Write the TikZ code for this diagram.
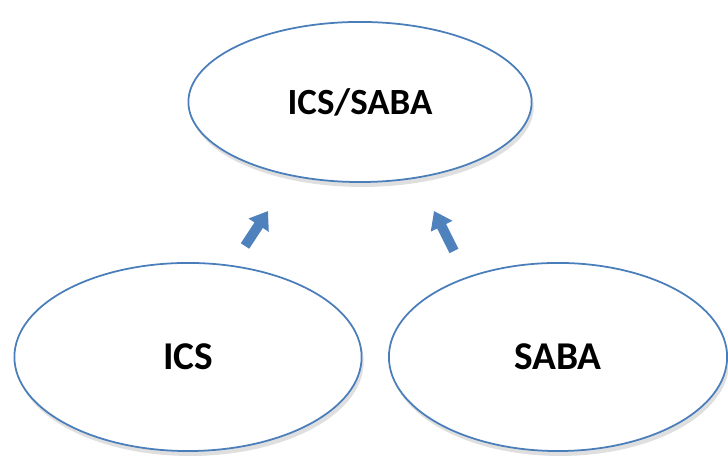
\documentclass[tikz,border=0pt]{standalone}
\usepackage{fontspec}
\setmainfont{Carlito}
\usepackage{tikz}
\usetikzlibrary{shapes.geometric}
\usetikzlibrary{arrows.meta}
\usetikzlibrary{shadows}
\definecolor{ovalline}{HTML}{4A7EBB}
\definecolor{arrowfill}{HTML}{4F81BD}

\begin{document}
\begin{tikzpicture}[x=0.01cm,y=-0.01cm,
  oval/.style={ellipse,draw=ovalline,line width=0.5pt,fill=white,inner sep=0pt,text depth=0pt,
    drop shadow={shadow xshift=0.6pt,shadow yshift=-1.4pt,opacity=0.25}},
  upshift/.style={line width=0.1cm,draw=arrowfill,-{Triangle[width=0.23cm,length=0.17cm]}}]
\useasboundingbox (0,0) rectangle (728,456);
\node (icssaba) at (360,102) [oval,minimum width=3.43cm,minimum height=1.6cm,font=\fontsize{10.5}{12}\selectfont\bfseries] {ICS/SABA};
\node (ics) at (188,357) [oval,minimum width=3.47cm,minimum height=1.88cm,font=\fontsize{11.2}{13}\selectfont\bfseries] {ICS};
\node (saba) at (558,357) [oval,minimum width=3.38cm,minimum height=1.88cm,font=\fontsize{11.2}{13}\selectfont\bfseries] {SABA};
% block arrows between the ovals
\coordinate (icsfoot) at (245,246);
\coordinate (icshead) at (268,211);
\coordinate (sabafoot) at (454,251);
\coordinate (sabahead) at (434,211);
\draw[upshift] (icsfoot) -- (icshead);
\draw[upshift] (sabafoot) -- (sabahead);
\end{tikzpicture}
\end{document}
